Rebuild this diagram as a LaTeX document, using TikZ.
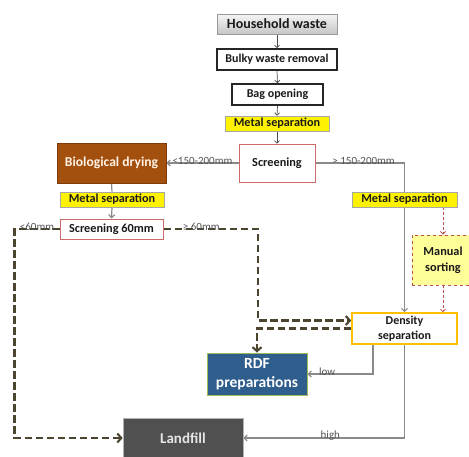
\documentclass[tikz,border=0pt]{standalone}
\usepackage{fontspec}
\setmainfont{Carlito}
\usetikzlibrary{arrows.meta,shadows,backgrounds}
\definecolor{biofill}{HTML}{A3500F}
\definecolor{biodraw}{HTML}{7F3A0A}
\definecolor{rdffill}{HTML}{2F5D8C}
\definecolor{rdfdraw}{HTML}{9BBB59}
\definecolor{landfill}{HTML}{505050}
\definecolor{densdraw}{HTML}{FFC000}
\definecolor{redline}{HTML}{D06A6A}
\definecolor{mandraw}{HTML}{C0504D}
\definecolor{manfill}{HTML}{FFFF99}
\definecolor{dshcol}{HTML}{4B4530}
\definecolor{glinecol}{HTML}{8A8A8A}
\definecolor{labcol}{HTML}{555555}
\definecolor{txt}{HTML}{1A1A1A}
\tikzset{
  base/.style={rectangle, align=center, inner sep=0pt, text=txt, font=\bfseries\fontsize{12.3}{14}\selectfont},
  hwbox/.style={base, draw=gray!80, top color=gray!8, bottom color=gray!45, line width=0.8pt, font=\bfseries\fontsize{14}{16}\selectfont},
  blkbox/.style={base, draw=black!85, fill=white, line width=1.6pt, font=\bfseries\fontsize{12}{14}\selectfont},
  metalbox/.style={base, draw=gray!70, fill=yellow, line width=0.6pt, drop shadow={opacity=0.35, shadow xshift=1.2pt, shadow yshift=-1.2pt}, font=\bfseries\fontsize{12.2}{14}\selectfont},
  redbox/.style={base, draw=redline, fill=white, line width=1pt},
  biobox/.style={base, draw=biodraw, fill=biofill, text=white!90!orange, line width=0.8pt, drop shadow={opacity=0.3, shadow xshift=1.2pt, shadow yshift=-1.2pt}, font=\bfseries\fontsize{13.6}{15}\selectfont},
  manbox/.style={base, draw=mandraw, fill=manfill, dashed, line width=0.9pt, font=\bfseries\fontsize{12.3}{16}\selectfont},
  densbox/.style={base, draw=densdraw, fill=white, line width=1.6pt, font=\bfseries\fontsize{12}{14.5}\selectfont},
  rdfbox/.style={base, draw=rdfdraw, fill=rdffill, text=white, line width=1pt, font=\bfseries\fontsize{15.5}{19}\selectfont},
  landbox/.style={base, draw=gray!60, fill=landfill, text=white!90!black, line width=0.6pt, font=\bfseries\fontsize{15}{17}\selectfont},
  tarr/.style={draw=black!70, line width=0.7pt, -{Straight Barb[length=2.5pt,width=5pt]}},
  garr/.style={draw=glinecol, line width=1.2pt, -{Straight Barb[length=3pt,width=6pt]}},
  gline/.style={draw=glinecol, line width=1.2pt},
  dsh/.style={draw=dshcol, line width=2.1pt, dash pattern=on 7.5pt off 3.5pt, -{Straight Barb[length=4pt,width=9pt]}},
  rdsh/.style={draw=mandraw, line width=0.8pt, dash pattern=on 3pt off 2pt, -{Straight Barb[length=2.5pt,width=5pt]}},
  lab/.style={text=labcol, font=\fontsize{11}{12}\selectfont, inner sep=1pt}
}
\begin{document}
\begin{tikzpicture}[x=1pt,y=-1pt]
\clip (0,0) rectangle (469,456);
% nodes
\node[hwbox, minimum width=120pt, minimum height=20pt] (hw) at (277,24) {Household waste};
\node[blkbox, minimum width=120pt, minimum height=21pt] (bulky) at (277,59.5) {Bulky waste removal};
\node[blkbox, minimum width=91pt, minimum height=21pt] (bag) at (277.5,94.5) {Bag opening};
\node[metalbox, minimum width=104pt, minimum height=15pt] (m1) at (277,123.5) {Metal separation};
\node[redbox, minimum width=76pt, minimum height=38pt] (scr) at (277,163) {Screening};
\node[biobox, minimum width=109pt, minimum height=40pt] (bio) at (111.5,163) {Biological drying};
\node[metalbox, minimum width=104pt, minimum height=15pt] (m2) at (112,199.5) {Metal separation};
\node[redbox, minimum width=103pt, minimum height=20pt] (scr60) at (111.5,229) {Screening 60mm};
\node[metalbox, minimum width=105pt, minimum height=15pt] (m3) at (404.5,199.5) {Metal separation};
\node[manbox, minimum width=62pt, minimum height=50pt] (man) at (443,260) {Manual\\sorting};
\node[densbox, minimum width=105pt, minimum height=31pt] (dens) at (404.5,328.5) {Density\\separation};
\node[rdfbox, minimum width=100pt, minimum height=42pt] (rdf) at (257,374) {RDF\\preparations};
\node[landbox, minimum width=120pt, minimum height=40pt] (land) at (183,438) {Landfill};
% connectors
\begin{pgfonlayer}{background}
\fill[white] (0,0) rectangle (469,456);
\draw[tarr] (hw.south) -- (bulky.north);
\draw[tarr] (bulky.south) -- (bag.north);
\draw[tarr] (bag.south) -- (m1.north);
\draw[tarr] (m1.south) -- (scr.north);
\draw[garr] (scr.west) -- node[lab, anchor=south, yshift=-3pt]{<150-200mm} (bio.east);
\draw[garr] (scr.east) -| node[lab, pos=0.27, anchor=south, yshift=-3pt]{> 150-200mm} (dens.north);
\draw[gline] (bio.south) -- (m2.north);
\draw[garr] (m2.south) -- (scr60.north);
\draw[rdsh] (m3.south -| man.north) -- (man.north);
\draw[rdsh] (man.south) -- (man.south |- dens.north);
\draw[dsh] (scr60.west) -- node[lab, anchor=south, yshift=-3.5pt]{<60mm} ++(-45,0) |- (land.west);
\draw[dsh] (scr60.east) -- node[lab, anchor=south, yshift=-3.5pt, pos=0.4]{≥ 60mm} ++(94.5,0) |- ([yshift=8pt]dens.west);
\draw[dsh] (dens.west) -| (rdf.north);
\draw[garr] ([xshift=-31.5pt]dens.south) |- node[lab, pos=0.85, anchor=south, yshift=-3.5pt]{low} (rdf.east);
\draw[garr] (dens.south) |- node[lab, pos=0.73, anchor=south, yshift=-3.5pt]{high} (land.east);
\end{pgfonlayer}
\end{tikzpicture}
\end{document}
